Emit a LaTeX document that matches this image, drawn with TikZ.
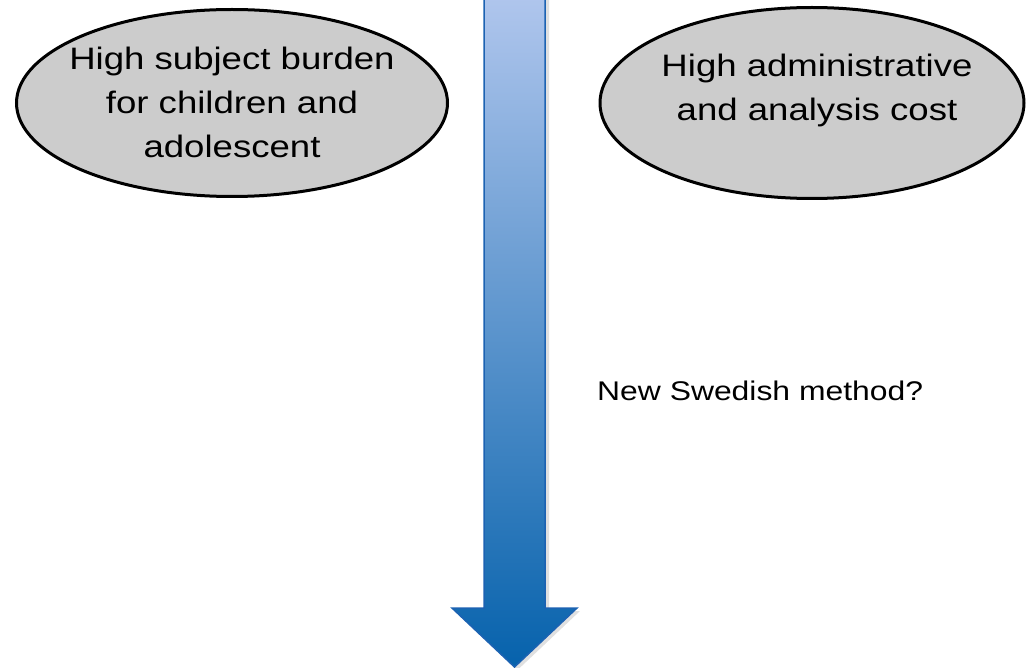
\documentclass[tikz,border=0pt]{standalone}
\usepackage{fontspec}
\setmainfont[FakeStretch=1.18]{Liberation Sans}
\usetikzlibrary{shapes.geometric}
\definecolor{blobgray}{RGB}{204,204,204}
\definecolor{arrtop}{RGB}{176,198,237}
\definecolor{arrbot}{RGB}{6,98,172}
\definecolor{arredge}{RGB}{28,98,178}
\tikzset{
  blob/.style={ellipse, draw=black, line width=3pt, fill=blobgray, inner sep=0pt},
  blobtext/.style={align=center, inner sep=0pt, anchor=north, font=\fontsize{31}{44}\selectfont},
  plaintext/.style={inner sep=0pt, anchor=base west, font=\fontsize{27}{32}\selectfont}
}
\begin{document}
\begin{tikzpicture}[x=1pt, y=-1pt]
\useasboundingbox (0,0) rectangle (1026,668);
% big downward arrow
\fill[black, opacity=0.12] (487,-5) -- (549,-5) -- (549,611) -- (580,611) -- (517.5,670) -- (455,611) -- (487,611) -- cycle;
\shade[top color=arrtop, bottom color=arrbot, draw=arredge, line width=1.5pt, line join=miter]
  (484,-5) -- (545,-5) -- (545,608) -- (577,608) -- (514.5,667) -- (452,608) -- (484,608) -- cycle;
% ellipses
\node[blob, minimum width=431pt, minimum height=187pt] (burden) at (232,103) {};
\node[blob, minimum width=424pt, minimum height=191pt] (cost) at (812,103) {};
\node[blobtext] (burdentext) at (232,46.5) {High subject burden\\for children and\\adolescent};
\node[blobtext] (costtext) at (817,54) {High administrative\\and analysis cost};
\node[plaintext] (swedish) at (597,400.5) {New Swedish method?};
\end{tikzpicture}
\end{document}
